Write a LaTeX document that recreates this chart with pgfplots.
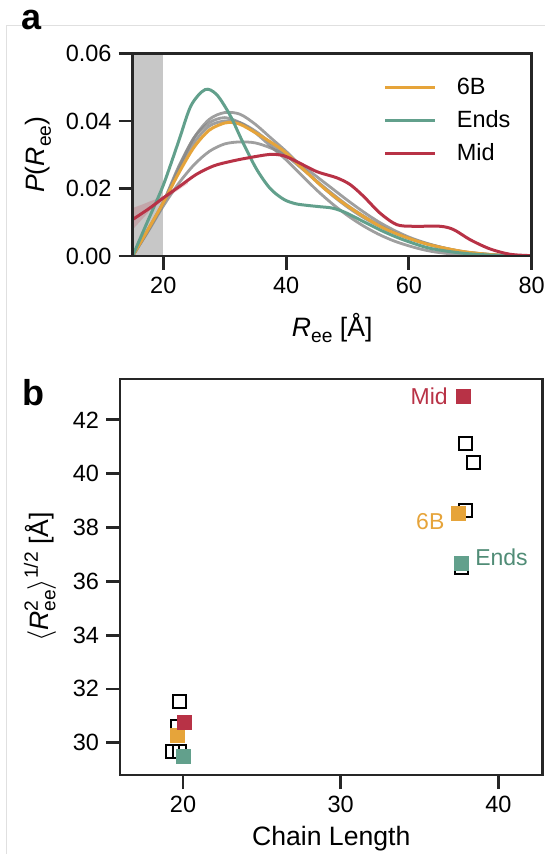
\documentclass[border=0pt]{standalone}
\usepackage{fontspec}
\setmainfont{Liberation Sans}
\usepackage{pgfplots}
\pgfplotsset{compat=1.18}

\definecolor{cOr}{RGB}{230,164,58}
\definecolor{cEn}{RGB}{98,160,140}
\definecolor{cMi}{RGB}{184,50,70}
\definecolor{cGr}{RGB}{135,135,135}
\definecolor{cSp}{RGB}{38,38,38}
\definecolor{cEnTxt}{RGB}{80,140,118}

\newcommand{\lsub}[1]{\raisebox{-0.45ex}{\fontsize{9.6}{10}\selectfont #1}}
\newcommand{\lsup}[1]{\raisebox{0.8ex}{\fontsize{9.6}{10}\selectfont #1}}

\pgfplotsset{
  panel/.style={
    scale only axis, anchor=south west, axis on top,
    axis line style={cSp, line width=1.4pt},
    tick style={cSp, line width=1.4pt},
    major tick length=7pt,
    tick align=outside, tick pos=left,
    /pgf/number format/assume math mode=true,
    tick label style={font=\fontsize{11.75}{14}\selectfont},
    label style={font=\fontsize{13.3}{16}\selectfont},
  },
  grayline/.style={cGr, line width=1.4pt, opacity=0.8, smooth, no markers, forget plot},
  filledsq/.style={only marks, color=#1, mark=square*, mark size=3.4pt,
    mark options={draw=#1, fill=#1, line width=0.7pt}},
}

\begin{document}
\begin{tikzpicture}
\path[use as bounding box] (0,0) rectangle (272.5pt,427pt);
\draw[black!12, line width=0.5pt] (3.35pt,0) -- (3.35pt,414pt) -- (272.5pt,414pt);

% panel a
\begin{axis}[panel, at={(66.3pt,299pt)}, width=199.55pt, height=101.25pt,
  xmin=15, xmax=80, ymin=0, ymax=0.06,
  xtick={20,40,60,80}, ytick={0,0.02,0.04,0.06},
  scaled y ticks=false,
  yticklabel style={/pgf/number format/fixed, /pgf/number format/fixed zerofill,
    /pgf/number format/precision=2},
  xlabel={\textit{R}\lsub{ee} [Å]},
  ylabel={\textit{P}(\textit{R}\lsub{ee})},
  xlabel style={at={(axis description cs:0.5,-0.357)}, anchor=center},
  ylabel style={at={(axis description cs:-0.2365,0.5)}, anchor=center},
  legend style={at={(axis description cs:0.6286,0.667)}, anchor=west, draw=none, fill=none,
    inner sep=0pt, row sep=6.6pt, column sep=10pt,
    font=\fontsize{11.75}{14}\selectfont, nodes={inner sep=0pt}},
  legend cell align=left,
  legend image code/.code={\draw[#1, line width=1.5pt] (0pt,0pt) -- (25pt,0pt);},
]
\addplot[fill=black!22, draw=none, forget plot] coordinates {(15,0.06) (20,0.06)} \closedcycle;

\addplot[grayline] coordinates {(15,0) (17.5,0.0075) (20,0.0158) (22.5,0.026) (25,0.035) (27.5,0.0405) (30,0.0425) (32.5,0.042) (35,0.039) (37.5,0.035) (40,0.031) (42.5,0.0265) (45,0.022) (47.5,0.018) (50,0.0145) (52.5,0.0115) (55,0.009) (57.5,0.007) (60,0.0053) (62.5,0.0038) (65,0.0026) (67.5,0.0016) (70,0.0009) (75,0.0002) (80,0)};
\addplot[grayline] coordinates {(15,0) (17.5,0.0078) (20,0.016) (22.5,0.0265) (25,0.035) (27.5,0.0395) (30,0.041) (32.5,0.0395) (35,0.0365) (37.5,0.0325) (40,0.0285) (42.5,0.024) (45,0.0195) (47.5,0.0155) (50,0.012) (52.5,0.009) (55,0.0065) (57.5,0.0045) (60,0.003) (62.5,0.0018) (65,0.001) (70,0.0002) (80,0)};
\addplot[grayline] coordinates {(15,0) (17.5,0.0076) (20,0.0155) (22.5,0.025) (25,0.0335) (27.5,0.0385) (30,0.0400) (32.5,0.0395) (35,0.037) (37.5,0.0335) (40,0.0298) (42.5,0.026) (45,0.0222) (47.5,0.0185) (50,0.015) (52.5,0.012) (55,0.0093) (57.5,0.007) (60,0.0052) (62.5,0.0038) (65,0.0027) (67.5,0.0017) (70,0.001) (75,0.0002) (80,0)};
\addplot[grayline] coordinates {(15,0) (17.5,0.0072) (20,0.0148) (22.5,0.0215) (25,0.027) (27.5,0.031) (30,0.0332) (32.5,0.0338) (35,0.0335) (37.5,0.032) (40,0.0298) (42.5,0.027) (45,0.0235) (47.5,0.02) (50,0.0165) (52.5,0.0132) (55,0.0102) (57.5,0.0077) (60,0.0056) (62.5,0.004) (65,0.0027) (67.5,0.0017) (70,0.001) (75,0.0002) (80,0)};

\addplot[fill=cMi, fill opacity=0.22, draw=none, forget plot] coordinates {(15,0.0142) (16.5,0.0152) (18,0.0163) (19.5,0.0173) (21,0.0187) (22.5,0.0204) (24,0.0222) (24,0.0214) (22.5,0.0196) (21,0.0178) (19.5,0.0160) (18,0.0138) (16.5,0.0108) (15,0.0078)} -- cycle;

\addplot[cOr, line width=1.5pt, smooth, no markers] coordinates {(15,0) (17.5,0.0078) (20,0.0158) (22.5,0.0245) (25,0.0322) (27.5,0.0373) (30,0.0394) (31.5,0.0395) (33,0.0386) (36.3,0.0351) (39.6,0.0311) (42.8,0.0257) (46.1,0.0202) (49.3,0.0157) (52.6,0.0117) (55.8,0.0083) (59.1,0.0058) (63.4,0.0033) (68.9,0.0013) (74.3,0.0003) (80,0)};
\addlegendentry{6B}
\addplot[cEn, line width=1.5pt, smooth, no markers] coordinates {(15,0) (17.5,0.0105) (20,0.021) (22.5,0.034) (24.5,0.0445) (26.8,0.0493) (28.7,0.0478) (30.9,0.0416) (33,0.0335) (35.2,0.0257) (37.4,0.0200) (39.6,0.0168) (41.5,0.0155) (43.4,0.0150) (45.5,0.0146) (47.5,0.0142) (49.5,0.0130) (52.6,0.0102) (55.8,0.0073) (59.1,0.0048) (63.4,0.0023) (68.9,0.0008) (74.3,0.0002) (80,0)};
\addlegendentry{Ends}
\addplot[cMi, line width=1.5pt, smooth, no markers] coordinates {(15,0.0108) (17.8,0.0142) (20,0.0172) (22.7,0.0207) (25.4,0.0242) (28.2,0.0267) (30.9,0.028) (33.6,0.029) (37.4,0.0301) (39.6,0.0297) (41.7,0.028) (45,0.025) (48.2,0.0232) (50.4,0.0212) (52.6,0.0177) (55.3,0.0127) (58,0.0093) (60.7,0.0088) (65.1,0.0088) (67.3,0.0078) (70,0.0048) (73.2,0.0021) (76.5,0.0005) (80,0.0001)};
\addlegendentry{Mid}
\end{axis}

\node[font=\fontsize{18}{20}\selectfont\bfseries] at (15.85pt,417pt) {a};

% panel b
\begin{axis}[panel, at={(60pt,39.5pt)}, width=211.25pt, height=198pt,
  xmin=16, xmax=42.8, ymin=28.8, ymax=43.52,
  xtick={20,30,40}, ytick={30,32,34,36,38,40,42},
  xlabel={Chain Length},
  ylabel={$\langle$\textit{R}\rlap{\lsup{2}}\lsub{ee}$\rangle$\lsup{1/2} [Å]},
  xlabel style={at={(axis description cs:0.5,-0.1598)}, anchor=center},
  ylabel style={at={(axis description cs:-0.1893,0.5)}, anchor=center},
]
\addplot[only marks, color=black, mark=square, mark size=3.25pt, mark options={draw=black, line width=1pt, fill=none}] coordinates {(19.79,31.55) (19.64,30.62) (19.35,29.67) (19.80,29.67) (37.9,41.12) (38.45,40.43) (37.94,38.63) (37.66,36.5)};
\addplot[filledsq=cOr] coordinates {(19.65,30.27) (37.49,38.53)};
\addplot[filledsq=cEn] coordinates {(20.0,29.5) (37.68,36.67)};
\addplot[filledsq=cMi] coordinates {(20.12,30.75) (37.77,42.87)};
\node[anchor=east, inner sep=0pt, text=cMi, font=\fontsize{11.5}{14}\selectfont] at (axis cs:36.81,42.87) {Mid};
\node[anchor=east, inner sep=0pt, text=cOr, font=\fontsize{11.5}{14}\selectfont] at (axis cs:36.6,38.22) {6B};
\node[anchor=west, inner sep=0pt, text=cEnTxt, font=\fontsize{11.5}{14}\selectfont] at (axis cs:38.51,36.9) {Ends};
\end{axis}

\node[font=\fontsize{18}{20}\selectfont\bfseries] at (16.65pt,230.5pt) {b};
\end{tikzpicture}
\end{document}
